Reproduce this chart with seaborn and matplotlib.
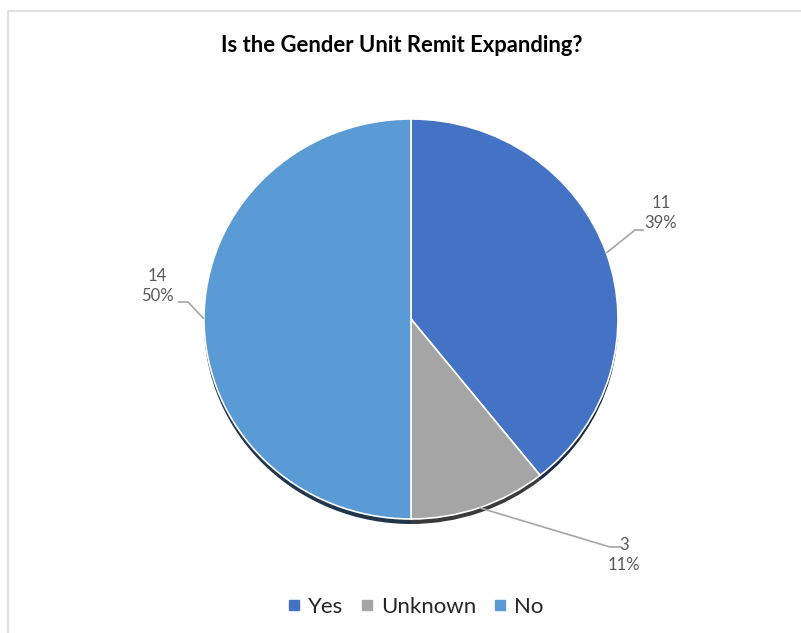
import numpy as np
import matplotlib
matplotlib.use("Agg")
import matplotlib.pyplot as plt
from matplotlib.patches import Rectangle
from matplotlib.lines import Line2D
import seaborn as sns

# Survey responses
categories = ["Yes", "Unknown", "No"]
counts = [11, 3, 14]
title = "Is the Gender Unit Remit Expanding?"

sns.set_style("white")
plt.rcParams["font.family"] = ["Lato", "DejaVu Sans"]

palette = sns.color_palette(["#4472C4", "#A5A5A5", "#5B9BD5"])
shadow_palette = [tuple(c * 0.35 for c in col) for col in palette]

W, H = 801, 633
# slight vertical squash so the pie reads as a tilted disc
squash = 207 / 200

fig = plt.figure(figsize=(W / 100, H / 100), dpi=100)
ax = fig.add_axes([0, 0, 1, 1])

def py(y):
    """Convert a top-down pixel row into axis y."""
    return (H - y) * squash

cx, cy, r = 411, py(319), 207

# Drop shadow under the pie
ax.pie(counts, colors=shadow_palette, startangle=90, counterclock=False,
       radius=r, center=(cx, cy - 5 * squash), frame=True,
       wedgeprops=dict(linewidth=0))
# Pie face
wedges, _ = ax.pie(counts, colors=palette, startangle=90, counterclock=False,
                   radius=r, center=(cx, cy), frame=True,
                   wedgeprops=dict(edgecolor="white", linewidth=1.2))
ax.set_xlim(0, W)
ax.set_ylim(0, H * squash)
ax.set_aspect("auto")
ax.axis("off")

# Chart frame
ax.add_patch(Rectangle((8, py(H + 5)), W + 10, (H + 5 - 11) * squash,
                       fill=False, edgecolor="#D9D9D9", linewidth=1.2))

total = sum(counts)
# label text centre, elbow point, end of horizontal segment (pixel rows top-down)
label_layout = [
    ((661, 213), (635, 230), (644, 230)),
    ((624, 555), (610, 547), (621, 547)),
    ((157, 286), (188, 302), (178, 302)),
]
for w, n, (tpos, elbow, end) in zip(wedges, counts, label_layout):
    mid = np.deg2rad((w.theta1 + w.theta2) / 2)
    ax0 = cx + r * np.cos(mid)
    ay0 = cy + r * np.sin(mid)
    ax.plot([ax0, elbow[0], end[0]], [ay0, py(elbow[1]), py(end[1])],
            color="#A6A6A6", linewidth=1.2, solid_capstyle="butt", zorder=5)
    ax.text(tpos[0], py(tpos[1]), f"{n}\n{n / total:.0%}", ha="center",
            va="center", fontsize=12, color="#595959", linespacing=1.35,
            zorder=6)

ax.text(W / 2 + 1, py(45), title, ha="center", va="center", fontsize=15.8,
        fontweight="bold", color="#000000")

handles = [Line2D([0], [0], marker="s", linestyle="none", markersize=6.5,
                  markerfacecolor=c, markeredgecolor=c) for c in palette]
fig.legend(handles, categories, loc="center", bbox_to_anchor=(416 / W, 1 - 607 / H),
           ncol=3, frameon=False, fontsize=16, handlelength=0.5,
           handletextpad=0.4, columnspacing=0.8, labelcolor="#262626")

fig.savefig("out.png", dpi=100, facecolor="white")
